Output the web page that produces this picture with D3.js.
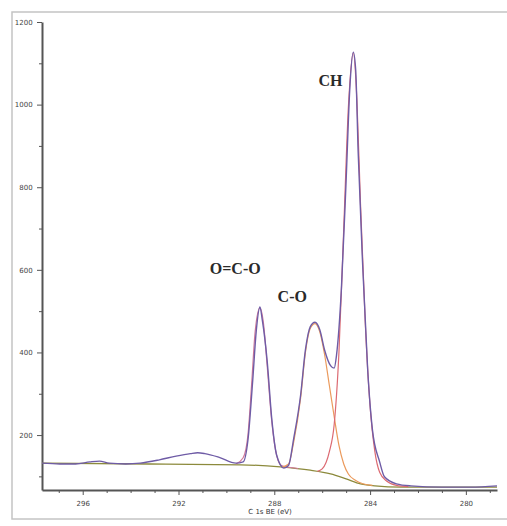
<!DOCTYPE html>
<html lang="en">
<head>
<meta charset="UTF-8">
<title>C 1s XPS</title>
<script src="https://d3js.org/d3.v7.min.js"></script>
<style>
  body, html { margin: 0; padding: 0; background: #fff; overflow: hidden; }
</style>
</head>
<body>
<script>
// binding energy (eV) and counts
const envelopeBE = [297.7, 296.96, 296.3, 295.7, 295.3, 294.9, 294.2, 293.6, 292.8, 292.1, 291.5, 291.2, 290.9, 290.3, 289.6, 289.3, 289.1, 288.9, 288.75, 288.6, 288.5, 288.3, 288.1, 287.9, 287.6, 287.4, 287.2, 286.9, 286.7, 286.5, 286.3, 286.1, 285.9, 285.65, 285.5, 285.4, 285.2, 285.0, 284.85, 284.7, 284.6, 284.5, 284.3, 284.1, 283.9, 283.6, 283.4, 282.9, 282.3, 281.0, 279.8, 278.7];
const envelopeCounts = [132, 130, 130, 135, 137, 132, 130, 132, 140, 149, 155, 157, 155, 146, 132, 135, 188, 333, 454, 510, 478, 381, 236, 151, 120, 127, 188, 297, 406, 462, 473, 455, 406, 368, 362, 394, 551, 817, 1035, 1127, 1083, 889, 599, 358, 212, 135, 99, 82, 77, 74, 74, 77];

const backgroundBE = [297.7, 293.2, 289.4, 287.75, 286.5, 285.65, 285.0, 284.4, 283.8, 282.7, 278.7];
const backgroundCounts = [132, 130, 128, 123, 115, 106, 94, 82, 77, 74, 74];

const oco = {
  be: [289.6, 289.3, 289.1, 288.95, 288.8, 288.6, 288.45, 288.3, 288.1, 287.9, 287.7, 287.4, 287.0],
  counts: [130, 145, 200, 320, 450, 508, 470, 370, 230, 150, 126, 122, 119]
};
const co = {
  be: [287.7, 287.4, 287.2, 286.9, 286.7, 286.5, 286.3, 286.1, 285.9, 285.7, 285.5, 285.3, 285.1, 284.9, 284.6, 284.3, 283.9],
  counts: [122, 130, 180, 290, 400, 458, 470, 450, 395, 320, 245, 175, 130, 105, 90, 82, 78]
};
const ch = {
  be: [286.2, 286.0, 285.7, 285.5, 285.3, 285.1, 284.9, 284.7, 284.55, 284.4, 284.2, 284.0, 283.8, 283.6, 283.3, 282.9, 282.4],
  counts: [112, 118, 160, 225, 400, 700, 1000, 1125, 1010, 760, 470, 270, 160, 110, 88, 78, 75]
};

const xMajor = [296, 292, 288, 284, 280];
const yMajor = [200, 400, 600, 800, 1000, 1200];
const peakLabels = [
  { text: "O=C-O", be: 289.63, counts: 590 },
  { text: "C-O", be: 287.25, counts: 522 },
  { text: "CH", be: 285.65, counts: 1045 }
];

const W = 507, H = 526;
const svg = d3.select("body").append("svg")
  .attr("width", W)
  .attr("height", H);

// outer frame
svg.append("rect")
  .attr("x", 12).attr("y", 12)
  .attr("width", 505).attr("height", 507)
  .attr("fill", "none")
  .attr("stroke", "#c4c4c4")
  .attr("stroke-width", 1.5);

const x = d3.scaleLinear().domain([297.7, 278.7]).range([42, 497]);
const y = d3.scaleLinear().domain([67, 1200]).range([490, 22]);

// axes
const axisColor = "#555";
const xAxis = svg.append("g")
  .attr("transform", "translate(0,490)")
  .call(d3.axisBottom(x).tickValues(xMajor).tickSize(5).tickSizeOuter(0).tickFormat(d3.format("d")));
const xMinor = svg.append("g")
  .attr("transform", "translate(0,490)")
  .call(d3.axisBottom(x).tickValues(d3.range(279, 298, 1).filter(v => !xMajor.includes(v))).tickSize(3).tickSizeOuter(0).tickFormat(""));
xMinor.select(".domain").remove();

const yAxis = svg.append("g")
  .attr("transform", "translate(42,0)")
  .call(d3.axisLeft(y).tickValues(yMajor).tickSize(5).tickSizeOuter(0).tickFormat(d3.format("d")));
const yMinor = svg.append("g")
  .attr("transform", "translate(42,0)")
  .call(d3.axisLeft(y).tickValues(d3.range(100, 1200, 200)).tickSize(3).tickSizeOuter(0).tickFormat(""));
yMinor.select(".domain").remove();

svg.selectAll(".domain").attr("stroke", axisColor).attr("stroke-width", 2);
svg.selectAll(".tick line").attr("stroke", axisColor).attr("stroke-width", 1);
svg.selectAll(".tick text")
  .attr("fill", "#444")
  .style("font-family", "DejaVu Sans")
  .style("font-size", "7px");
xAxis.selectAll(".tick text").attr("dy", "1.1em");
yAxis.selectAll(".tick text").attr("dx", "-0.2em");

svg.append("text")
  .attr("x", 270).attr("y", 514)
  .attr("text-anchor", "middle")
  .attr("fill", "#333")
  .style("font-family", "DejaVu Sans")
  .style("font-size", "7px")
  .text("C 1s BE (eV)");

const line = d3.line()
  .x(d => x(d[0]))
  .y(d => y(d[1]))
  .curve(d3.curveMonotoneX);

function zip(a, b) { return a.map((v, i) => [v, b[i]]); }

function drawCurve(pts, color, w) {
  svg.append("path")
    .datum(pts)
    .attr("d", line)
    .attr("fill", "none")
    .attr("stroke", color)
    .attr("stroke-width", w)
    .attr("stroke-linejoin", "round");
}

drawCurve(zip(backgroundBE, backgroundCounts), "#8c8a3c", 1.3);
drawCurve(zip(oco.be, oco.counts), "#d17a9a", 1.2);
drawCurve(zip(co.be, co.counts), "#eb9a5c", 1.2);
drawCurve(zip(ch.be, ch.counts), "#dc6a72", 1.2);
drawCurve(zip(envelopeBE, envelopeCounts), "#6f5ca6", 1.4);

// peak annotations
svg.selectAll(".peakLabel")
  .data(peakLabels)
  .enter().append("text")
  .attr("class", "peakLabel")
  .attr("x", d => x(d.be))
  .attr("y", d => y(d.counts))
  .attr("text-anchor", "middle")
  .attr("fill", "#2a2a2a")
  .style("font-family", "Liberation Serif")
  .style("font-size", "16px")
  .style("font-weight", "bold")
  .text(d => d.text);
</script>
</body>
</html>
